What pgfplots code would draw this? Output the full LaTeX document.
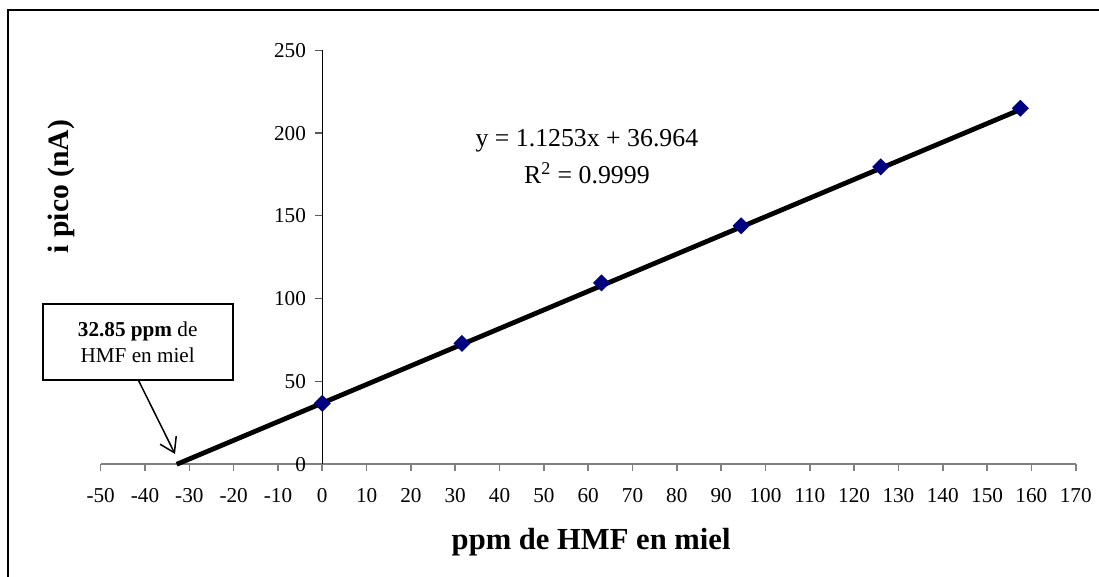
\documentclass[border=0pt]{standalone}
\usepackage{pgfplots}
\pgfplotsset{compat=1.18}
\usepackage{fontspec}
\setmainfont{Liberation Serif}
\usetikzlibrary{arrows.meta}
\definecolor{navy}{RGB}{0,0,128}
\begin{document}
\begin{tikzpicture}
\useasboundingbox (0,0) rectangle (549.5pt,288.5pt);
\draw[line width=0.8pt] (4pt,-10pt) -- (4pt,283.5pt) -- (600pt,283.5pt);
\begin{axis}[
  at={(50.35pt,56.35pt)}, anchor=south west,
  scale only axis, width=487.5pt, height=207pt,
  xmin=-50, xmax=170, ymin=0, ymax=250,
  axis lines*=middle,
  separate axis lines,
  x axis line style={gray, line width=1pt},
  y axis line style={black, line width=0.6pt},
  xtick={-50,-40,...,170},
  ytick={0,50,...,250},
  hide obscured x ticks=false, hide obscured y ticks=false,
  tick align=outside,
  major tick length=3.5pt,
  xtick style={gray, line width=0.8pt},
  ytick style={gray!70!black, line width=0.6pt},
  /pgf/number format/assume math mode=true,
  ticklabel style={font=\fontsize{10.6pt}{12pt}\selectfont},
  xticklabel style={anchor=north, inner sep=0pt, yshift=-8.5pt},
  yticklabel style={anchor=east, inner sep=0pt, xshift=-4.5pt},
  xlabel={\textbf{ppm de HMF en miel}},
  ylabel={\textbf{i pico (nA)}},
  every axis x label/.style={at={(rel axis cs:0.503,-0.1877)}, anchor=center, font=\fontsize{15.3pt}{17pt}\selectfont},
  every axis y label/.style={at={(rel axis cs:-0.04,0.671)}, anchor=center, rotate=90, font=\fontsize{14.8pt}{17pt}\selectfont},
  clip=false,
]
\addplot[only marks, mark=square*, mark size=2.8pt,
  mark options={rotate=45, fill=navy, draw=navy}]
  coordinates {(0,36.8) (31.5,73.0) (63,109.5) (94.5,144.0) (126,179.6) (157.5,215.0)};
\addplot[black, line width=2.4pt, no marks] coordinates {(-32.85,0) (157.5,214.2)};
\node[align=center, font=\fontsize{12.9pt}{18.5pt}\selectfont] at (axis cs:59.7,185.9)
  {y = 1.1253x + 36.964\\R\textsuperscript{2} = 0.9999};
\end{axis}
\node[draw, line width=1pt, minimum width=95pt, minimum height=38pt, inner sep=0pt,
  align=center, font=\fontsize{10.6pt}{13pt}\selectfont] at (68.85pt,117.5pt)
  {\textbf{32.85 ppm} de\\HMF en miel};
\draw[line width=0.75pt, -{Straight Barb[length=7pt,width=9pt]}] (69.15pt,98.5pt) -- (87.5pt,61.5pt);
\end{tikzpicture}
\end{document}
